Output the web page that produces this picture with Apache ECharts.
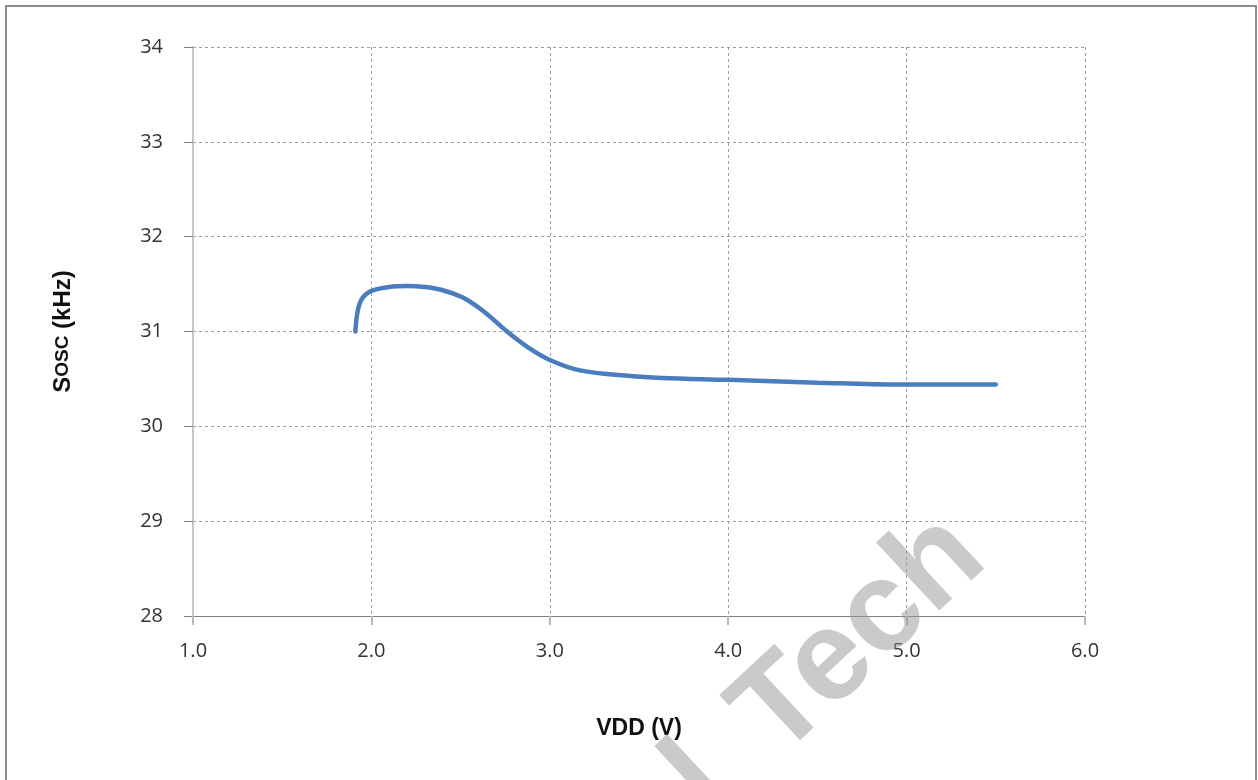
<!DOCTYPE html>
<html>
<head>
<meta charset="utf-8">
<script src="https://cdn.jsdelivr.net/npm/echarts@6/dist/echarts.min.js"></script>
<style>
  html, body { margin: 0; padding: 0; background: #fff; }
  #chart { width: 1258px; height: 780px; }
</style>
</head>
<body>
<div id="chart"></div>
<script>
// VDD (V) vs SOSC frequency (kHz)
const vdd  = [1.91, 1.935, 1.99, 2.10, 2.20, 2.30, 2.39, 2.51, 2.63, 2.76, 2.88, 3.00, 3.17, 3.45, 3.63, 4.00, 4.50, 4.96, 5.50]
const sosc = [31.00, 31.30, 31.42, 31.47, 31.48, 31.47, 31.44, 31.36, 31.21, 31.00, 30.83, 30.70, 30.59, 30.53, 30.51, 30.49, 30.46, 30.44, 30.44]

const xTicks = [1.0, 2.0, 3.0, 4.0, 5.0, 6.0]
const yTicks = [28, 29, 30, 31, 32, 33, 34]

const chart = echarts.init(document.getElementById('chart'))

const labelFont = '"Open Sans", "DejaVu Sans", sans-serif'
const titleFont = '"Liberation Sans", Arial, sans-serif'

const option = {
  backgroundColor: '#fff',
  animation: false,
  grid: { left: 193, top: 47, right: 173, bottom: 164 },
  xAxis: {
    type: 'value',
    min: xTicks[0],
    max: xTicks[xTicks.length - 1],
    interval: 1,
    name: 'VDD (V)',
    nameLocation: 'middle',
    nameGap: 101,
    nameTextStyle: { fontFamily: titleFont, fontWeight: 'bold', fontSize: 23, color: '#111' },
    axisLine: { show: true, onZero: false, lineStyle: { color: '#808080', width: 1 } },
    axisTick: { show: true, length: 9, lineStyle: { color: '#b8b8b8', width: 2 } },
    axisLabel: {
      margin: 25,
      fontFamily: labelFont,
      fontSize: 20,
      color: '#333',
      formatter: v => v.toFixed(1)
    },
    splitLine: { show: true, lineStyle: { color: '#a0a0a0', type: [3, 3], width: 1 } }
  },
  yAxis: {
    type: 'value',
    min: yTicks[0],
    max: yTicks[yTicks.length - 1],
    interval: 1,
    name: '{b|S}{s|OSC}{b| (kHz)}',
    nameLocation: 'middle',
    nameGap: 118,
    nameRotate: 90,
    nameTextStyle: {
      rich: {
        b: { fontFamily: titleFont, fontWeight: 'bold', fontSize: 24, color: '#111' },
        s: { fontFamily: titleFont, fontWeight: 'bold', fontSize: 19, color: '#111' }
      }
    },
    axisLine: { show: true, lineStyle: { color: '#c8c8c8', width: 2 } },
    axisTick: { show: true, length: 9, lineStyle: { color: '#808080', width: 1 } },
    axisLabel: {
      margin: 30,
      fontFamily: labelFont,
      fontSize: 20,
      color: '#333'
    },
    splitLine: { show: true, lineStyle: { color: '#a0a0a0', type: [3, 3], width: 1 } }
  },
  series: [{
    type: 'line',
    data: vdd.map((v, i) => [v, sosc[i]]),
    smooth: 0.35,
    showSymbol: false,
    lineStyle: { color: '#4a7dbd', width: 4.5, cap: 'round' },
    z: 3
  }],
  graphic: [
    {
      type: 'rect',
      shape: { x: 6, y: 6, width: 1250, height: 800 },
      style: { fill: 'none', stroke: '#8c8c8c', lineWidth: 2 },
      silent: true
    },
    {
      type: 'text',
      x: 860, y: 636,
      rotation: 43 * Math.PI / 180,
      style: {
        text: 'Tech',
        font: 'bold 128px "Liberation Sans", Arial, sans-serif',
        fill: 'rgba(150,150,150,0.5)',
        align: 'center',
        verticalAlign: 'middle'
      },
      z: 100,
      silent: true
    },
    {
      type: 'text',
      x: 700, y: 782,
      rotation: 43 * Math.PI / 180,
      style: {
        text: 'l',
        font: 'bold 128px "Liberation Sans", Arial, sans-serif',
        fill: 'rgba(150,150,150,0.5)',
        align: 'center',
        verticalAlign: 'middle'
      },
      z: 100,
      silent: true
    }
  ]
}

chart.setOption(option)
</script>
</body>
</html>
